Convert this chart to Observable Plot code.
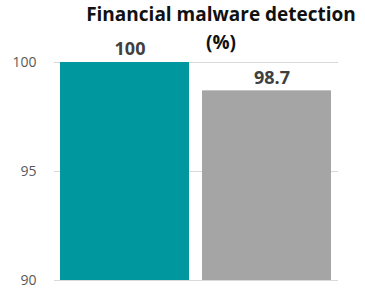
<!DOCTYPE html>
<html><head><meta charset="utf-8">
<script src="https://cdn.jsdelivr.net/npm/d3@7"></script>
<script src="https://cdn.jsdelivr.net/npm/@observablehq/plot@0.6"></script>
<style>
body{margin:0;background:#fff;}
#wrap{position:relative;width:365px;height:290px;}
#title{position:absolute;left:40px;width:362px;top:0;text-align:center;font:bold 19px "Open Sans",sans-serif;color:#111;line-height:28px;white-space:nowrap;}
</style></head>
<body><div id="wrap"><div id="title">Financial malware detection<br>(%)</div></div>
<script>
const categories = ["A", "B"];
const values = [100, 98.7];
const labels = ["100", "98.7"];
const yTicks = [90, 95, 100];
const colors = ["#00979f", "#a5a5a5"];

const data = categories.map((c, i) => ({cat: c, v: values[i], label: labels[i]}));

const chart = Plot.plot({
  width: 365, height: 290,
  marginLeft: 54, marginRight: 27, marginTop: 62, marginBottom: 10,
  style: {fontFamily: "Open Sans, sans-serif", background: "#fff"},
  x: {domain: categories, axis: null, paddingInner: 0.09, paddingOuter: 0.042},
  y: {domain: [90, 100], ticks: yTicks, tickSize: 0, tickPadding: 18, label: null, tickFormat: d => String(d)},
  color: {domain: categories, range: colors},
  marks: [
    Plot.ruleY(yTicks, {stroke: "#d9d9d9", strokeWidth: 1}),
    Plot.barY(data, {x: "cat", y1: 90, y2: "v", fill: "cat"}),
    Plot.text(data, {x: "cat", y: "v", text: "label", dy: -13, dx: 5, fontSize: 18, fontWeight: "bold", fill: "#404040"})
  ]
});
const g = chart.querySelector('[aria-label="y-axis tick label"]');
if (g) { g.setAttribute("font-size", "14"); g.setAttribute("fill", "#595959"); }
document.getElementById("wrap").prepend(chart);
</script></body></html>
